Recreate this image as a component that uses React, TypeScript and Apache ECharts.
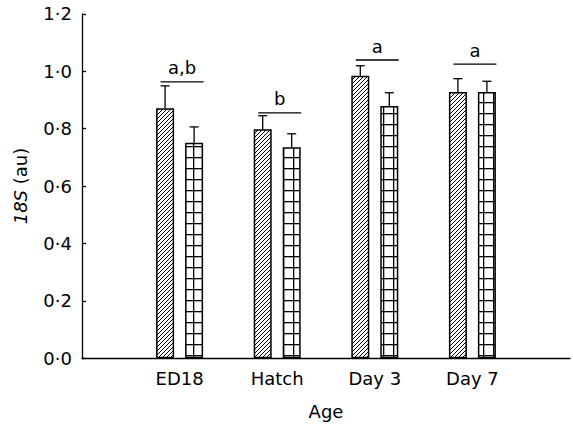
import React, { useEffect, useRef } from 'react';
import * as echarts from 'echarts';

const categories = ['ED18', 'Hatch', 'Day 3', 'Day 7'];
const hatchedMeans = [0.871, 0.798, 0.984, 0.928];
const hatchedUpper = [0.949, 0.845, 1.019, 0.974];
const gridMeans = [0.751, 0.735, 0.879, 0.928];
const gridUpper = [0.806, 0.782, 0.925, 0.965];
const sigLetters = ['a,b', 'b', 'a', 'a'];
const sigLevels = [0.963, 0.855, 1.039, 1.025];
const yMin = 0;
const yMax = 1.2;
const yStep = 0.2;

const FONT = '"DejaVu Sans", "Liberation Sans", Arial, sans-serif';
const FS = 18;

function makeHatch(): HTMLCanvasElement {
  const c = document.createElement('canvas');
  c.width = 4;
  c.height = 4;
  const ctx = c.getContext('2d')!;
  ctx.fillStyle = '#fff';
  ctx.fillRect(0, 0, 4, 4);
  ctx.strokeStyle = '#000';
  ctx.lineWidth = 1.0;
  for (const o of [-4, 0, 4]) {
    ctx.beginPath();
    ctx.moveTo(o - 1, 5);
    ctx.lineTo(o + 5, -1);
    ctx.stroke();
  }
  return c;
}

function makeGrid(): HTMLCanvasElement {
  const c = document.createElement('canvas');
  c.width = 10;
  c.height = 11;
  const ctx = c.getContext('2d')!;
  ctx.fillStyle = '#fff';
  ctx.fillRect(0, 0, 10, 11);
  ctx.fillStyle = '#000';
  ctx.fillRect(3, 0, 1.3, 11);
  ctx.fillRect(0, 3, 10, 1.3);
  return c;
}

function errorSeries(means: number[], upper: number[], dx: number) {
  return {
    type: 'custom',
    clip: false,
    z: 5,
    data: means.map((m, i) => [i + 1, m, upper[i]]),
    renderItem: (_params: any, api: any) => {
      const x = api.value(0);
      const p0 = api.coord([x, api.value(1)]);
      const p1 = api.coord([x, api.value(2)]);
      const cx = p0[0] + dx;
      const st = { stroke: '#000', lineWidth: 1.3 };
      return {
        type: 'group',
        children: [
          { type: 'line', shape: { x1: cx, y1: p0[1], x2: cx, y2: p1[1] }, style: st },
          { type: 'line', shape: { x1: cx - 4.5, y1: p1[1], x2: cx + 4.5, y2: p1[1] }, style: st },
        ],
      };
    },
  };
}

export default function App() {
  const ref = useRef<HTMLDivElement>(null);
  useEffect(() => {
    if (!ref.current) return;
    const chart = echarts.init(ref.current, undefined, { renderer: 'svg' });
    const hatch = makeHatch();
    const grid = makeGrid();
    chart.setOption({
      animation: false,
      textStyle: { fontFamily: FONT },
      grid: { left: 82, right: 0, top: 13.8, bottom: 69.7, containLabel: false },
      xAxis: {
        type: 'value',
        min: 0,
        max: 5,
        interval: 1,
        name: 'Age',
        nameLocation: 'middle',
        nameGap: 44,
        nameTextStyle: { fontSize: FS, color: '#000', fontFamily: FONT },
        axisLine: { lineStyle: { color: '#000', width: 1.3 } },
        axisTick: { show: false },
        splitLine: { show: false },
        axisLabel: {
          fontSize: FS,
          color: '#000',
          fontFamily: FONT,
          margin: 11,
          formatter: (v: number) => categories[Math.round(v) - 1] ?? '',
        },
      },
      yAxis: {
        type: 'value',
        min: yMin,
        max: yMax,
        interval: yStep,
        name: '{i|18S} (au)',
        nameLocation: 'middle',
        nameRotate: 90,
        nameGap: 53,
        nameTextStyle: {
          fontSize: FS,
          color: '#000',
          fontFamily: FONT,
          rich: { i: { fontStyle: 'italic', fontSize: FS, color: '#000', fontFamily: FONT } },
        },
        axisLine: { show: true, lineStyle: { color: '#000', width: 1.3 } },
        axisTick: { show: true, inside: true, length: 4, lineStyle: { color: '#000', width: 1.3 } },
        splitLine: { show: false },
        axisLabel: {
          fontSize: FS,
          color: '#000',
          fontFamily: FONT,
          margin: 10,
          formatter: (v: number) => v.toFixed(1).replace('.', '·'),
        },
      },
      series: [
        {
          type: 'bar',
          barWidth: 18,
          barGap: '61%',
          data: hatchedMeans.map((m, i) => [i + 1, m]),
          itemStyle: {
            color: { image: hatch, repeat: 'repeat' },
            borderColor: '#000',
            borderWidth: 1.5,
          },
        },
        {
          type: 'bar',
          barWidth: 18,
          barGap: '61%',
          data: gridMeans.map((m, i) => [i + 1, m]),
          itemStyle: {
            color: { image: grid, repeat: 'repeat' },
            borderColor: '#000',
            borderWidth: 1.5,
          },
        },
        errorSeries(hatchedMeans, hatchedUpper, -14.5),
        errorSeries(gridMeans, gridUpper, 14.5),
        {
          type: 'custom',
          clip: false,
          z: 6,
          data: sigLevels.map((l, i) => [i + 1, l]),
          renderItem: (params: any, api: any) => {
            const p = api.coord([api.value(0), api.value(1)]);
            return {
              type: 'group',
              children: [
                {
                  type: 'line',
                  shape: { x1: p[0] - 19, y1: p[1], x2: p[0] + 24, y2: p[1] },
                  style: { stroke: '#000', lineWidth: 1.3 },
                },
                {
                  type: 'text',
                  x: p[0] + 2.5,
                  y: p[1] - 5,
                  style: {
                    text: sigLetters[params.dataIndex],
                    font: `${FS}px ${FONT}`,
                    textAlign: 'center',
                    textVerticalAlign: 'bottom',
                    fill: '#000',
                  },
                },
              ],
            };
          },
        },
      ],
    });
    return () => chart.dispose();
  }, []);
  return (
    <div
      ref={ref}
      style={{ position: 'absolute', left: 0, top: 0, width: 573, height: 428, background: '#fff' }}
    />
  );
}
